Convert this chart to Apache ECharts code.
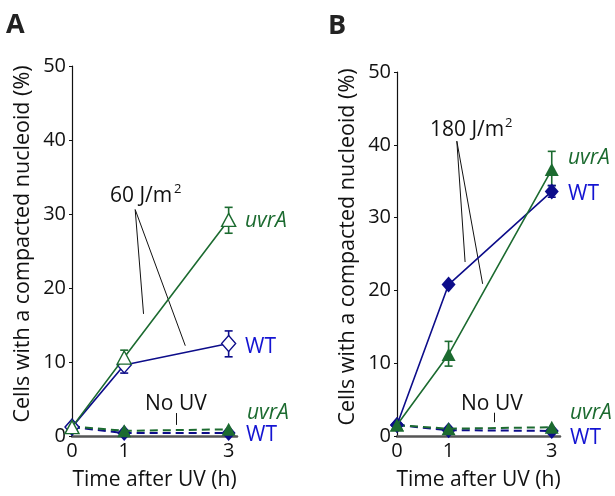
<!DOCTYPE html>
<html>
<head>
<meta charset="utf-8">
<script src="https://cdn.jsdelivr.net/npm/echarts@6/dist/echarts.min.js"></script>
<style>
  html, body { margin: 0; padding: 0; background: #fff; }
  #main { width: 615px; height: 496px; }
</style>
</head>
<body>
<div id="main"></div>
<script>
// time points (h)
var times = [0, 1, 3];
var xTickValues = [0, 1, 3];

// panel A, 60 J/m2
var aUvrA60 = [1.2, 10.6, 29.2];
var aWT60 = [1.2, 9.6, 12.5];
var aUvrANoUV = [1.3, 0.7, 0.9];
var aWTNoUV = [1.2, 0.4, 0.4];
// [time, low, high]
var aUvrA60Err = [[1, 9.9, 11.6], [3, 27.4, 30.9]];
var aWT60Err = [[1, 8.5, 10.0], [3, 10.7, 14.2]];

// panel B, 180 J/m2
var bUvrA180 = [1.5, 11.2, 36.6];
var bWT180 = [1.5, 20.8, 33.6];
var bUvrANoUV = [1.5, 1.0, 1.2];
var bWTNoUV = [1.5, 0.8, 0.7];
var bUvrA180Err = [[1, 9.6, 13.0], [3, 34.4, 39.1]];
var bWT180Err = [[3, 32.8, 34.4]];

var green = '#1c6b30';
var blue = '#0d0d8a';
var blueText = '#1414d2';
var font = 'Open Sans';

function pairs(ys) {
    var out = [];
    for (var i = 0; i < times.length; i++) {
        out.push([times[i], ys[i]]);
    }
    return out;
}

function makeX(idx) {
    return {
        type: 'value', gridIndex: idx, min: 0, max: 3.16,
        name: 'Time after UV (h)', nameLocation: 'middle', nameGap: 34,
        nameTextStyle: { fontFamily: font, fontSize: 21, color: '#111' },
        axisLine: { lineStyle: { color: '#555', width: 2.5 } },
        axisTick: { show: false },
        splitLine: { show: false },
        axisLabel: { customValues: xTickValues, fontFamily: font, fontSize: 20, color: '#111', margin: 5 }
    };
}

function makeY(idx) {
    return {
        type: 'value', gridIndex: idx, min: 0, max: 50, interval: 10,
        name: 'Cells with a compacted nucleoid (%)', nameLocation: 'middle', nameGap: 38,
        nameTextStyle: { fontFamily: font, fontSize: 21.5, color: '#111', padding: [0, 0, 0, 14] },
        axisLine: { show: true, lineStyle: { color: '#111', width: 1.2 } },
        axisTick: { show: true, length: 3, lineStyle: { color: '#111' } },
        splitLine: { show: false },
        axisLabel: { fontFamily: font, fontSize: 20, color: '#111', margin: 6 }
    };
}

function lineSeries(idx, ys, color, symbol, hollow, dashed, z) {
    return {
        type: 'line', xAxisIndex: idx, yAxisIndex: idx, data: pairs(ys),
        symbol: symbol, symbolSize: symbol === 'diamond' ? [14, 16] : [14, 13],
        lineStyle: { color: color, width: dashed ? 2 : 1.6, type: dashed ? [8, 5] : 'solid' },
        itemStyle: { color: hollow ? '#fff' : color, borderColor: color, borderWidth: hollow ? 1.4 : 0 },
        z: z, animation: false, silent: true
    };
}

function errSeries(idx, data, color) {
    return {
        type: 'custom', xAxisIndex: idx, yAxisIndex: idx, data: data, z: 1, silent: true, animation: false,
        renderItem: function (params, api) {
            var lo = api.coord([api.value(0), api.value(1)]);
            var hi = api.coord([api.value(0), api.value(2)]);
            var style = { stroke: color, lineWidth: 1.6 };
            return {
                type: 'group', children: [
                    { type: 'line', shape: { x1: lo[0], y1: lo[1], x2: hi[0], y2: hi[1] }, style: style },
                    { type: 'line', shape: { x1: lo[0] - 4, y1: lo[1], x2: lo[0] + 4, y2: lo[1] }, style: style },
                    { type: 'line', shape: { x1: hi[0] - 4, y1: hi[1], x2: hi[0] + 4, y2: hi[1] }, style: style }
                ]
            };
        }
    };
}

function pointers(idx, segs) {
    return {
        type: 'line', xAxisIndex: idx, yAxisIndex: idx, data: [], silent: true, animation: false,
        markLine: {
            silent: true, symbol: 'none', label: { show: false }, animation: false,
            lineStyle: { color: '#111', width: 1, type: 'solid' },
            data: segs.map(function (s) { return [{ coord: s[0] }, { coord: s[1] }]; })
        }
    };
}

// x = left edge, y = vertical centre
function txt(x, y, text, size, color, extra) {
    var st = { text: text, fontFamily: font, fontSize: size, fill: color, align: 'left', verticalAlign: 'middle' };
    for (var k in extra) st[k] = extra[k];
    return { type: 'text', x: x, y: y, style: st, silent: true, z: 10 };
}

var chart = echarts.init(document.getElementById('main'));
chart.setOption({
    backgroundColor: '#fff',
    animation: false,
    grid: [
        { left: 72, top: 66, width: 165, height: 372 },
        { left: 397, top: 72, width: 163, height: 370 }
    ],
    xAxis: [makeX(0), makeX(1)],
    yAxis: [makeY(0), makeY(1)],
    series: [
        errSeries(0, aUvrA60Err, green),
        errSeries(0, aWT60Err, blue),
        lineSeries(0, aWTNoUV, blue, 'diamond', false, true, 3),
        lineSeries(0, aUvrANoUV, green, 'triangle', false, true, 4),
        lineSeries(0, aWT60, blue, 'diamond', true, false, 5),
        lineSeries(0, aUvrA60, green, 'triangle', true, false, 6),
        pointers(0, [[[1.21, 30.6], [1.37, 16.5]], [[1.21, 30.6], [2.17, 12.2]], [[2.0, 3.1], [2.0, 1.5]]]),

        errSeries(1, bUvrA180Err, green),
        errSeries(1, bWT180Err, blue),
        lineSeries(1, bWTNoUV, blue, 'diamond', false, true, 3),
        lineSeries(1, bUvrANoUV, green, 'triangle', false, true, 4),
        lineSeries(1, bWT180, blue, 'diamond', false, false, 5),
        lineSeries(1, bUvrA180, green, 'triangle', false, false, 6),
        pointers(1, [[[1.16, 40.5], [1.32, 23.9]], [[1.16, 40.5], [1.66, 20.9]], [[1.88, 3.2], [1.88, 1.9]]])
    ],
    graphic: [
        txt(6, 25, 'A', 27, '#222', { fontWeight: 'bold' }),
        txt(328, 26, 'B', 27, '#222', { fontWeight: 'bold' }),
        txt(110, 196, '60 J/m', 21, '#111'),
        txt(174, 189, '2', 13, '#111'),
        txt(430, 130, '180 J/m', 21, '#111'),
        txt(505, 123, '2', 13, '#111'),
        txt(145, 404, 'No UV', 21, '#111'),
        txt(461, 404, 'No UV', 21, '#111'),
        txt(245, 221, 'uvrA', 21, green, { fontStyle: 'italic' }),
        txt(245, 347, 'WT', 21, blueText),
        txt(247, 413, 'uvrA', 21, green, { fontStyle: 'italic' }),
        txt(246, 435, 'WT', 21, blueText),
        txt(568, 158, 'uvrA', 21, green, { fontStyle: 'italic' }),
        txt(568, 194, 'WT', 21, blueText),
        txt(570, 413, 'uvrA', 21, green, { fontStyle: 'italic' }),
        txt(570, 438, 'WT', 21, blueText)
    ]
});
</script>
</body>
</html>
